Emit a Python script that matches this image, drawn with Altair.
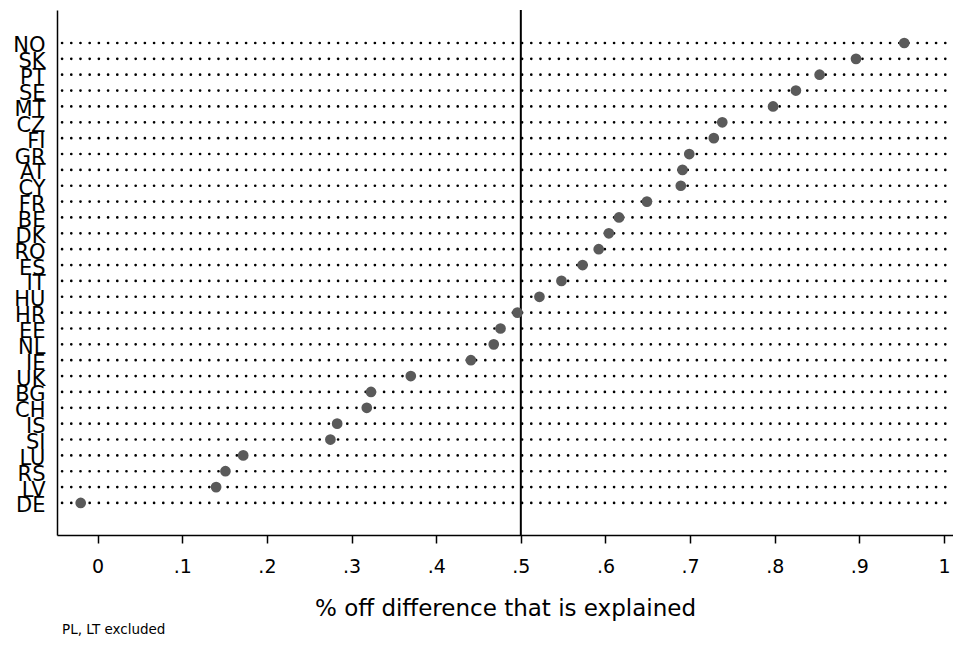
import altair as alt
import pandas as pd
import json

countries = ["NO", "SK", "PT", "SE", "MT", "CZ", "FI", "GR", "AT", "CY",
             "FR", "BE", "DK", "RO", "ES", "IT", "HU", "HR", "EE", "NL",
             "IE", "UK", "BG", "CH", "IS", "SI", "LU", "RS", "LV", "DE"]
explained = [0.953, 0.896, 0.853, 0.825, 0.798, 0.738, 0.728, 0.699, 0.691, 0.689,
             0.649, 0.616, 0.604, 0.592, 0.573, 0.548, 0.522, 0.496, 0.476, 0.468,
             0.441, 0.370, 0.323, 0.318, 0.283, 0.275, 0.172, 0.151, 0.140, -0.020]
tick_values = [0, 0.1, 0.2, 0.3, 0.4, 0.5, 0.6, 0.7, 0.8, 0.9, 1.0]
x_min, x_max = -0.048, 1.0106
ref_value = 0.5
note = "PL, LT excluded"
x_title = "%  off difference that is explained"

FONT = "DejaVu Sans"

n = len(countries)
df = pd.DataFrame({"country": countries, "value": explained,
                   "idx": list(range(n))})
df["x0"] = x_min + 0.006
df["x1"] = x_max

xscale = alt.Scale(domain=[x_min, x_max], nice=False, zero=False)
yscale = alt.Scale(domain=[n - 1 + 2.02, -2.08], nice=False, zero=False)

label_array = json.dumps(countries)

xaxis = alt.Axis(values=tick_values,
                 labelExpr="datum.value == 0 ? '0' : datum.value == 1 ? '1' : replace(format(datum.value, '.1f'), '0.', '.')",
                 grid=False, domainColor="black", domainWidth=1.5,
                 tickColor="black", tickSize=8, tickWidth=1.5,
                 labelFont=FONT, labelFontSize=19, labelColor="black",
                 labelPadding=14, labelFlush=False,
                 title=x_title, titleFont=FONT, titleFontSize=23,
                 titleFontWeight="normal", titleColor="black",
                 titleBaseline="alphabetic", titleY=80)
yaxis = alt.Axis(title=None, grid=False, ticks=False,
                 values=list(range(n)),
                 labelExpr=label_array + "[datum.value]",
                 domainColor="black", domainWidth=1.5,
                 labelFont=FONT, labelFontSize=21, labelColor="black",
                 labelPadding=12, labelOffset=3, labelFlush=False,
                 labelOverlap=False, labelBound=False)

base = alt.Chart(df)

dots = base.mark_rule(strokeDash=[0, 9.2], strokeCap="round", strokeWidth=2.7,
                      color="black").encode(
    x=alt.X("x0:Q", scale=xscale, axis=xaxis),
    x2="x1:Q",
    y=alt.Y("idx:Q", scale=yscale, axis=yaxis),
)

vline = alt.Chart(pd.DataFrame({"v": [ref_value]})).mark_rule(
    color="black", strokeWidth=2).encode(
    x=alt.X("v:Q", scale=xscale, axis=xaxis),
)

points = base.mark_circle(size=115, color="#5a5a5a", opacity=1).encode(
    x=alt.X("value:Q", scale=xscale, axis=xaxis),
    y=alt.Y("idx:Q", scale=yscale, axis=yaxis),
)

foot = alt.Chart(pd.DataFrame({"t": [note]})).mark_text(
    align="left", baseline="alphabetic", font=FONT, fontSize=13.5,
    color="black").encode(
    text="t:N", x=alt.value(5), y=alt.value(624),
)

chart = alt.layer(dots, vline, points, foot).properties(
    width=896, height=525,
    background="white",
    autosize=alt.AutoSizeParams(type="none"),
    padding={"left": 49, "top": 2, "right": 0, "bottom": 102},
).configure_view(stroke=None, strokeWidth=0).configure_axisY(
    labelOverlap=False
)

chart.save("out.html", embed_options={"renderer": "svg", "actions": False})
